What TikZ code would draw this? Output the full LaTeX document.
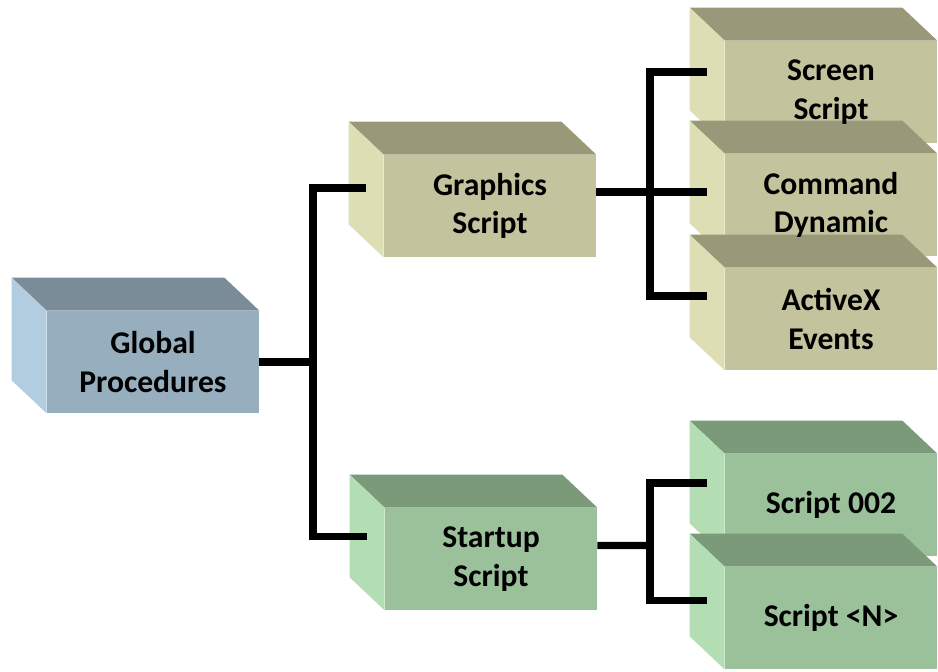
\documentclass[tikz,border=0pt]{standalone}
\usepackage{fontspec}
\setmainfont{Carlito}
\definecolor{procF}{HTML}{97AEBE}
\definecolor{procT}{HTML}{7A8C97}
\definecolor{procL}{HTML}{B3CDE0}
\definecolor{gfxF}{HTML}{C3C39D}
\definecolor{gfxT}{HTML}{99997A}
\definecolor{gfxL}{HTML}{DEDEB5}
\definecolor{startF}{HTML}{9BC19B}
\definecolor{startT}{HTML}{7A9A7A}
\definecolor{startL}{HTML}{B3DDB3}
\pgfdeclarelayer{boxes}
\pgfsetlayers{boxes,main}

\begin{document}
\begin{tikzpicture}[font=\bfseries\fontsize{18}{21.9}\selectfont,
 cube/.style={minimum width=4.24cm,minimum height=2.04cm,inner sep=0pt,align=center,
  append after command={\pgfextra{\begin{pgfonlayer}{boxes}
   \fill[#1F] (\tikzlastnode.north west) rectangle (\tikzlastnode.south east);
   \fill[#1T] (\tikzlastnode.north west)--(\tikzlastnode.north east)--++(-0.7,0.66)
    --([shift={(-0.7,0.66)}]\tikzlastnode.north west)--cycle;
   \fill[#1L] (\tikzlastnode.north west)--([shift={(-0.7,0.66)}]\tikzlastnode.north west)
    --([shift={(-0.7,0.66)}]\tikzlastnode.south west)--(\tikzlastnode.south west)--cycle;
  \end{pgfonlayer}}}},
 link/.style={line width=4pt}]
\useasboundingbox (0,0) rectangle (18.76,-13.42);
\node[cube=proc] (gp) at (3.06,-7.24) {Global\\Procedures};
\node[cube=gfx] (gs) at (9.80,-4.12) {Graphics\\Script};
\node[cube=start] (ss) at (9.82,-11.18) {Startup\\Script};
\node[cube=gfx] (scr) at (16.62,-1.84) {Screen\\Script};
\node[cube=gfx] (cmd) at (16.62,-4.10) {Command\\Dynamic};
\node[cube=gfx] (ax) at (16.62,-6.38) {ActiveX\\Events};
\node[cube=start] (s2) at (16.62,-10.10) {Script 002};
\node[cube=start] (sn) at (16.62,-12.36) {Script <N>};
% first fork
\coordinate (f1) at (6.26,-7.24);
\draw[link] (gp.east)--(f1);
\draw[link] ([shift={(-0.35,0.36)}]gs.west) -| (f1) |- ([shift={(-0.35,0.45)}]ss.west);
% graphics fork
\coordinate (f2) at (13.0,-3.84);
\draw[link] (gs.east |- f2)--([xshift=-0.35cm]cmd.west |- f2);
\draw[link] ([shift={(-0.35,0.4)}]scr.west) -| (f2) |- ([shift={(-0.35,0.46)}]ax.west);
% startup fork
\coordinate (f3) at (13.0,-10.91);
\draw[link] ([yshift=0.27cm]ss.east)--(f3);
\draw[link] ([shift={(-0.35,0.44)}]s2.west) -| (f3) |- ([shift={(-0.35,0.35)}]sn.west);
\end{tikzpicture}
\end{document}
